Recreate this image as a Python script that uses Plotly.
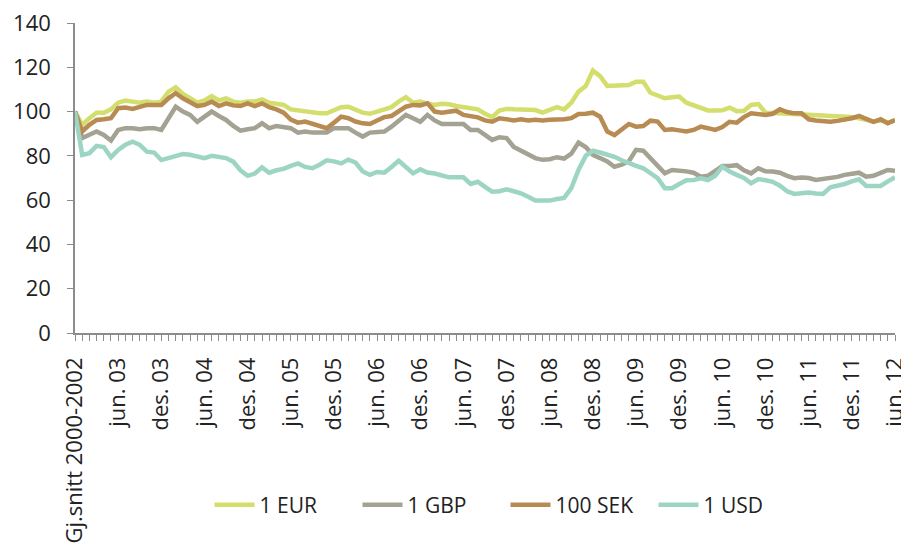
import plotly.graph_objects as go

month_names = ["jan.", "feb.", "mar.", "apr.", "mai", "jun.", "jul.", "aug.", "sep.", "okt.", "nov.", "des."]
years = ["03", "04", "05", "06", "07", "08", "09", "10", "11", "12"]
categories = ["Gj.snitt 2000-2002"]
for y in years:
    for m in month_names:
        categories.append(f"{m} {y}")
        if y == "12" and m == "jun.":
            break
label_every = 6
tick_text = [c if i % label_every == 0 else "" for i, c in enumerate(categories)]

eur = [100, 94, 97, 99.5, 99.5, 101, 104, 105, 104.5, 104, 104.5, 104, 104.5, 109, 111, 108, 106, 104, 105, 107,
       105, 106, 104.5, 104, 104.5, 104.5, 105.5, 104, 103.5, 103, 101, 100.5, 100.5, 99.5, 99.2, 99.2, 100.5, 102, 102.2, 101,
       99.5, 99, 100, 101, 102, 104.5, 106.5, 104, 104.5, 103.5, 103, 103.5, 103.3, 102.5, 102, 101.5, 101, 99, 97.5, 100.5,
       101.2, 101, 101, 100.8, 100.7, 99.5, 101, 102, 101, 104, 109, 111.5, 118.5, 116, 111.6, 111.8, 111.6, 112, 113.5, 113.5,
       108.5, 107.5, 106, 106.5, 106.8, 104, 103, 102, 100.5, 100.5, 100.6, 101.8, 100.2, 100.4, 103, 103.4, 99.5, 99.3, 99.2, 99,
       99, 99, 98.5, 98.3, 98.2, 98, 98, 98, 97.5, 97, 96, 95.5, 96, 95, 96]
gbp = [100, 88, 89.5, 91, 89.4, 86.9, 91.7, 92.5, 92.5, 92, 92.5, 92.5, 91.7, 97, 102.2, 100, 98.5, 95.4, 98, 100,
       98, 96.2, 93.5, 91.4, 92, 92.5, 94.7, 92.5, 93.5, 93, 92.5, 90.5, 91, 90.5, 90.5, 90.5, 92.5, 92.5, 92.5, 90.5,
       88.7, 90.5, 90.5, 91, 93.2, 96, 98.5, 97, 95.4, 98.5, 96, 94.4, 94.4, 94.4, 94.4, 91.7, 91.7, 89.5, 87.2, 88.4,
       88, 84, 82.3, 81, 79, 78.2, 78.5, 79.4, 78.8, 81, 86, 84, 80.4, 79, 77.5, 75.1, 76, 77.6, 82.7, 82.3,
       79, 76, 72.1, 73.6, 73.5, 73, 72.4, 70.6, 71, 73.5, 75.4, 75.4, 75.8, 73.5, 72.1, 74.4, 73, 72.9, 72.4, 71,
       69.9, 70.2, 70, 69.1, 69.5, 69.9, 70.5, 71.4, 72, 72.4, 70.6, 71, 72.3, 73.6, 73.3]
sek = [100, 91, 94, 96.2, 96.5, 97, 101.5, 101.8, 101.2, 102, 103, 103, 103, 106, 108.3, 106, 104.5, 102.5, 103, 104.5,
       102.5, 103.7, 102.8, 102.5, 103.7, 102.5, 103.7, 102, 101, 99.5, 96.4, 95, 95.5, 94.4, 93.5, 92.5, 95, 97.7, 97, 95.5,
       94.7, 94.4, 96, 97.5, 98, 100, 102.2, 103, 102.8, 103.7, 100, 99.5, 100, 100.4, 98.5, 98, 97.4, 96, 95.4, 97,
       96.5, 96, 96.5, 96, 96.3, 96, 96.3, 96.2, 96.5, 97, 98.9, 99, 99.5, 97.7, 91, 89.4, 92, 94.4, 93.2, 93.5,
       95.9, 95.5, 91.7, 92, 91.5, 91, 91.7, 93.2, 92.5, 91.7, 93, 95.4, 95, 97.5, 99.2, 99, 98.5, 99, 101, 99.8,
       99.2, 99.2, 96.5, 96, 95.5, 95.4, 95.8, 96.2, 97, 98, 96.5, 95.4, 96.5, 94.7, 96.2]
usd = [100, 80.4, 81.2, 84.5, 84, 79.4, 82.7, 85, 86.4, 85, 81.9, 81.5, 78.1, 79, 80, 80.8, 80.5, 79.5, 79, 80,
       79.5, 79, 77.4, 73.5, 71, 72, 74.8, 72.4, 73.5, 74.1, 75.5, 76.6, 75, 74.4, 76, 78, 77.5, 76.6, 78.3, 77,
       73, 71.4, 72.7, 72.4, 75, 77.8, 75, 72.1, 73.9, 72.5, 72, 71, 70.3, 70.3, 70.3, 67.3, 68.3, 66, 63.8, 64,
       64.9, 64, 63.1, 61.5, 59.8, 59.8, 59.8, 60.5, 61, 65.4, 73.6, 80, 82.3, 81.5, 80.5, 79.6, 78, 76.6, 75.5, 74.4,
       72, 69.9, 65.4, 65.4, 67.3, 69, 69.1, 69.9, 69.1, 71, 75.1, 72.9, 71.4, 70, 67.6, 69.5, 69, 68.3, 66.5, 64,
       62.8, 63.2, 63.4, 63, 62.8, 65.8, 66.5, 67.3, 68.5, 69.4, 66.4, 66.4, 66.4, 68.5, 70.3]

series_names = ["1 EUR", "1 GBP", "100 SEK", "1 USD"]
series_values = [eur, gbp, sek, usd]
series_colors = ["#d3de6c", "#a3a293", "#b88b52", "#9dd5c4"]

y_ticks = [0, 20, 40, 60, 80, 100, 120, 140]

fig = go.Figure()
for name, vals, col in zip(series_names, series_values, series_colors):
    fig.add_trace(go.Scatter(x=categories, y=vals, name=name, mode="lines",
                             line=dict(color=col, width=4.5)))

font_family = "'Open Sans', Lato, sans-serif"
text_color = "#222222"
# the page body has an 8px margin, so the figure is sized 8px smaller
fig.update_layout(
    width=901, height=541,
    margin=dict(l=67, r=14, t=15, b=216, autoexpand=False),
    paper_bgcolor="white", plot_bgcolor="white",
    font=dict(family=font_family, size=21, color=text_color),
    showlegend=True,
    legend=dict(orientation="h", x=0.525, xanchor="center", y=-0.555, yanchor="middle",
                font=dict(size=21, family=font_family, color=text_color),
                entrywidth=93, entrywidthmode="pixels", itemwidth=40,
                bgcolor="rgba(0,0,0,0)"),
)
fig.update_xaxes(
    type="category", categoryorder="array", categoryarray=categories,
    range=[0, len(categories) - 1], automargin=False,
    tickmode="array", tickvals=categories, ticktext=tick_text,
    tickangle=-90, ticks="outside", ticklen=6, tickcolor="#8c8c8c", tickwidth=1,
    ticklabelstandoff=8, ticklabeloverflow="allow",
    showline=True, linecolor="#8c8c8c", linewidth=1.5,
    showgrid=False, zeroline=False,
    tickfont=dict(size=22, family=font_family, color=text_color),
)
fig.update_yaxes(
    range=[0, 140], tickmode="array", tickvals=y_ticks, automargin=False,
    ticks="outside", ticklen=6, tickcolor="#8c8c8c", tickwidth=1,
    showline=True, linecolor="#8c8c8c", linewidth=1.5,
    showgrid=False, zeroline=False,
    ticklabelstandoff=12, ticklabeloverflow="allow",
    tickfont=dict(size=22, family=font_family, color=text_color),
)

fig.write_html("out.html")
